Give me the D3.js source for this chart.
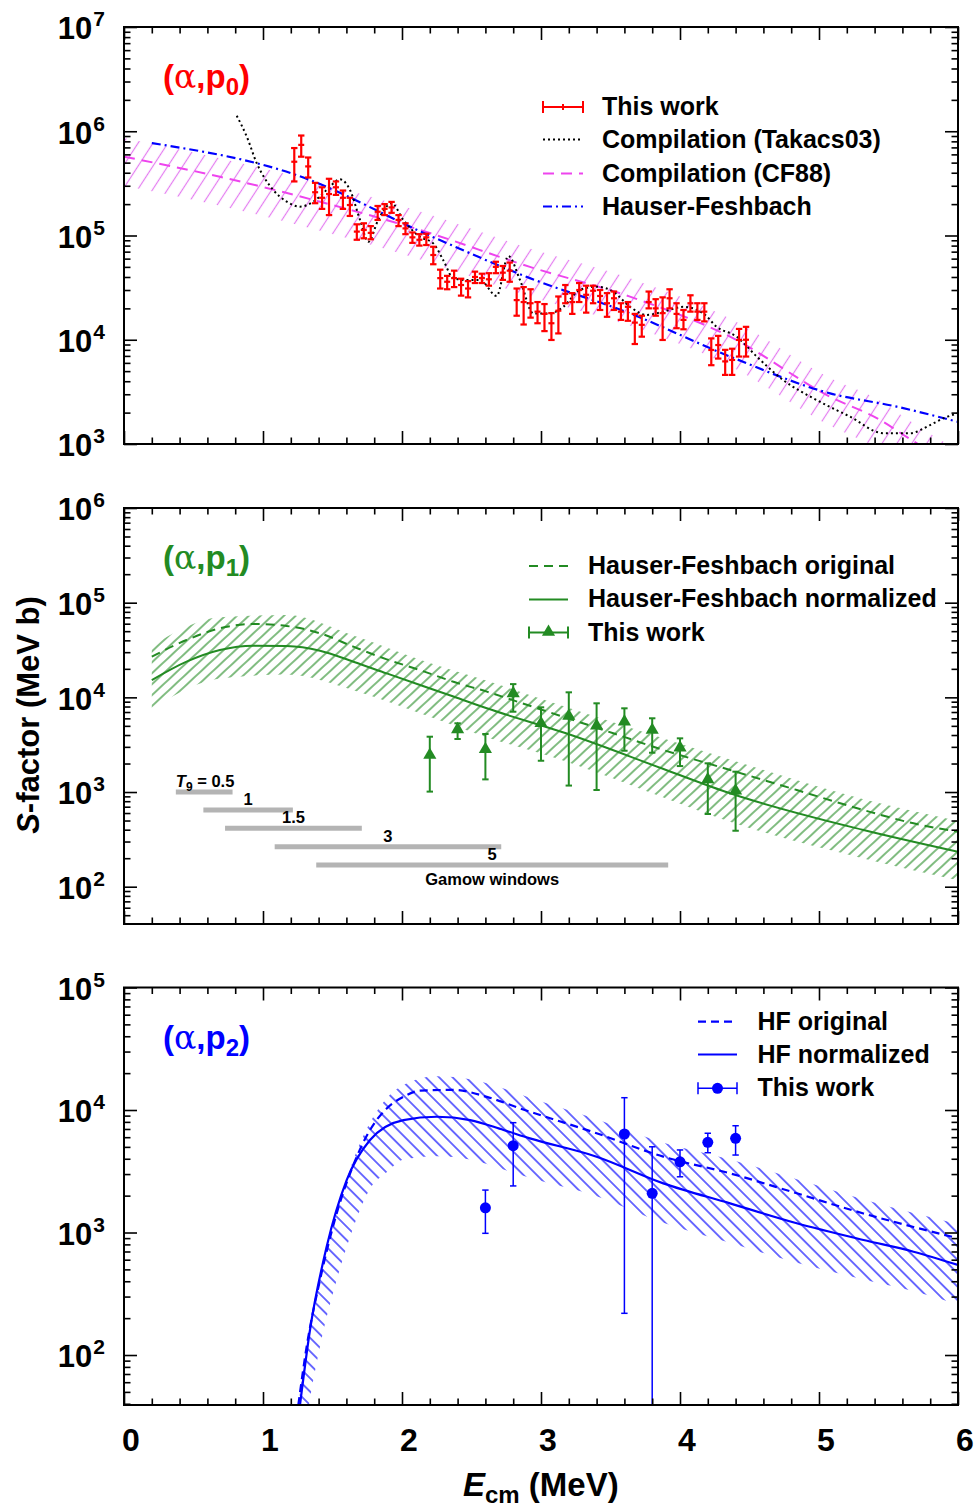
<!DOCTYPE html>
<html lang="en">
<head>
<meta charset="UTF-8">
<title>S-factor</title>
<script src="https://d3js.org/d3.v7.min.js"></script>
<style>
  body { margin: 0; background: #fff; }
  svg { display: block; }
  text { font-family: "Liberation Sans", Arial, Helvetica, sans-serif; font-weight: bold; }
</style>
</head>
<body>
<svg id="chart" width="975" height="1510"></svg>
<script>
// ---------- data: (alpha,p0) ----------
const p0E = [1.225, 1.275, 1.325, 1.375, 1.425, 1.475, 1.525, 1.575, 1.625, 1.675, 1.725, 1.775, 1.825, 1.875, 1.925, 1.975,
  2.025, 2.075, 2.125, 2.175, 2.225, 2.275, 2.325, 2.375, 2.425, 2.475, 2.525, 2.575, 2.625, 2.675, 2.725, 2.775, 2.825,
  2.875, 2.925, 2.975, 3.025, 3.075, 3.125, 3.175, 3.225, 3.275, 3.325, 3.375, 3.425, 3.475, 3.525, 3.575, 3.625, 3.675,
  3.725, 3.775, 3.825, 3.875, 3.925, 3.975, 4.025, 4.075, 4.125, 4.175, 4.225, 4.275, 4.325, 4.375, 4.425, 4.475];
const p0S = [5.1e5, 7.4e5, 4.6e5, 2.6e5, 2.3e5, 2.5e5, 2.9e5, 2.3e5, 1.96e5, 1.09e5, 1.13e5, 1.06e5, 1.69e5, 1.8e5, 1.86e5, 1.41e5,
  1.17e5, 9.6e4, 9.1e4, 9.6e4, 6.5e4, 3.9e4, 3.6e4, 3.9e4, 3.35e4, 3.1e4, 4.0e4, 3.9e4, 3.8e4, 5.0e4, 4.4e4, 4.6e4, 2.4e4,
  2.3e4, 2.24e4, 1.86e4, 1.77e4, 1.44e4, 1.9e4, 2.75e4, 2.3e4, 3.0e4, 2.7e4, 2.95e4, 2.63e4, 2.24e4, 2.5e4, 1.86e4, 2.07e4, 1.46e4,
  1.39e4, 2.3e4, 2.0e4, 1.8e4, 2.5e4, 1.77e4, 1.55e4, 2.24e4, 1.86e4, 1.86e4, 7.98e3, 8.9e3, 6.2e3, 6.4e3, 9.95e3, 1.0e4];
const p0Hi = [6.9e5, 9.1e5, 5.6e5, 3.2e5, 2.9e5, 3.5e5, 3.3e5, 2.7e5, 2.3e5, 1.28e5, 1.31e5, 1.23e5, 1.92e5, 2.0e5, 2.1e5, 1.57e5,
  1.31e5, 1.07e5, 1.03e5, 1.04e5, 7.8e4, 4.7e4, 4.1e4, 4.6e4, 3.85e4, 3.65e4, 4.5e4, 4.3e4, 4.35e4, 5.6e4, 5.1e4, 5.5e4, 3.1e4,
  3.2e4, 3.05e4, 2.3e4, 2.2e4, 1.8e4, 2.6e4, 3.35e4, 2.8e4, 3.5e4, 3.3e4, 3.3e4, 3.0e4, 2.8e4, 2.9e4, 2.24e4, 2.3e4, 1.77e4,
  1.7e4, 2.9e4, 2.45e4, 2.55e4, 3.05e4, 2.24e4, 1.93e4, 2.67e4, 2.24e4, 2.24e4, 1.03e4, 1.09e4, 8.0e3, 8.2e3, 1.27e4, 1.33e4];
const p0Lo = [3.3e5, 5.7e5, 3.6e5, 2.04e5, 1.8e5, 1.57e5, 2.45e5, 1.8e5, 1.54e5, 9.1e4, 9.4e4, 9.2e4, 1.41e5, 1.57e5, 1.65e5, 1.23e5,
  1.03e5, 8.5e4, 8.0e4, 8.1e4, 5.3e4, 3.1e4, 3.05e4, 3.2e4, 2.65e4, 2.55e4, 3.5e4, 3.5e4, 3.3e4, 4.35e4, 3.75e4, 3.6e4, 1.7e4,
  1.4e4, 1.63e4, 1.44e4, 1.21e4, 9.95e3, 1.15e4, 2.24e4, 1.77e4, 2.3e4, 1.82e4, 2.24e4, 1.93e4, 1.66e4, 1.93e4, 1.55e4, 1.52e4, 9.1e3,
  1.07e4, 2.0e4, 1.7e4, 9.95e3, 2.0e4, 1.29e4, 1.26e4, 1.86e4, 1.55e4, 1.5e4, 5.7e3, 6.6e3, 4.6e3, 4.6e3, 6.9e3, 6.9e3];

const takE = [0.811, 0.883, 0.955, 1.074, 1.171, 1.266, 1.362, 1.458, 1.554, 1.626, 1.698, 1.758, 1.829, 1.926, 2.009, 2.129,
  2.225, 2.297, 2.369, 2.465, 2.561, 2.681, 2.765, 2.849, 2.945, 3.065, 3.16, 3.28, 3.401, 3.52, 3.64, 3.76, 3.88, 4.024,
  4.168, 4.264, 4.408, 4.552, 4.743, 4.983, 5.223, 5.463, 5.655, 5.799, 5.894, 6.0];
const takS = [1.41e6, 8.9e5, 4.94e5, 2.73e5, 2.11e5, 1.89e5, 2.11e5, 2.73e5, 3.46e5, 2.73e5, 1.41e5, 8.7e4, 1.41e5, 2.04e5, 1.41e5, 9.7e4,
  8.4e4, 5.8e4, 3.9e4, 3.74e4, 3.74e4, 2.63e4, 6.36e4, 3.74e4, 1.79e4, 1.79e4, 2.07e4, 3.0e4, 3.23e4, 2.89e4, 2.07e4, 1.73e4, 1.86e4, 2.07e4,
  1.79e4, 1.33e4, 1.07e4, 6.9e3, 4.1e3, 2.64e3, 1.83e3, 1.27e3, 1.27e3, 1.52e3, 1.76e3, 1.97e3];

const cf88E = [0, 0.69, 1.41, 2.13, 2.92, 3.64, 4.36, 5.08, 5.44, 5.63, 6.0];
const cf88S = [5.7e5, 3.66e5, 2.11e5, 1.13e5, 5.0e4, 2.59e4, 1.07e4, 2.84e3, 1.7e3, 1.17e3, 5.8e2];
const cf88Hi = [8.6e5, 5.5e5, 3.2e5, 1.7e5, 7.5e4, 3.9e4, 1.6e4, 4.3e3, 2.6e3, 1.75e3, 8.7e2];
const cf88Lo = [3.0e5, 1.93e5, 1.11e5, 5.9e4, 2.6e4, 1.36e4, 5.6e3, 1.5e3, 8.9e2, 6.2e2, 3.05e2];

const hf0E = [0.2, 1.216, 2.22, 2.92, 3.64, 4.36, 5.08, 5.56, 6.0];
const hf0S = [7.7e5, 3.9e5, 9.7e4, 3.9e4, 1.79e4, 6.9e3, 3.06e3, 2.28e3, 1.63e3];

// ---------- data: (alpha,p1) ----------
const hf1OrigE = [0.2, 0.45, 0.69, 0.93, 1.17, 1.41, 1.65, 1.89, 2.13, 2.37, 2.61, 2.85, 3.52, 3.88, 4.36, 4.84, 5.32, 5.68, 6.0];
const hf1OrigS = [2.69e4, 4.03e4, 5.36e4, 5.95e4, 5.67e4, 4.75e4, 3.43e4, 2.52e4, 1.94e4, 1.46e4, 1.15e4, 8.8e3, 4.17e3, 2.78e3, 1.71e3, 1.05e3, 645, 467, 380];
const hf1NormE = [0.2, 0.45, 0.69, 0.93, 1.17, 1.41, 1.65, 1.89, 2.13, 2.37, 2.61, 3.18, 3.9, 4.36, 5.32, 6.0];
const hf1NormS = [1.52e4, 2.38e4, 3.16e4, 3.51e4, 3.48e4, 3.11e4, 2.38e4, 1.79e4, 1.35e4, 1.02e4, 7.66e3, 4.17e3, 1.71e3, 970, 397, 234];
const band1E = [0.2, 0.69, 1.17, 1.65, 2.13, 2.61, 3.18, 3.9, 4.36, 5.32, 6.0];
const band1Hi = [3.5e4, 7.0e4, 7.4e4, 4.5e4, 2.5e4, 1.5e4, 7.9e3, 3.6e3, 2.2e3, 840, 495];
const band1Lo = [7.6e3, 1.58e4, 1.74e4, 1.19e4, 6.8e3, 3.8e3, 2.1e3, 855, 485, 199, 117];

const p1E = [2.2, 2.4, 2.6, 2.8, 3.0, 3.2, 3.4, 3.6, 3.8, 4.0, 4.2, 4.4];
const p1S = [2.46e3, 4.59e3, 2.83e3, 1.1e4, 5.32e3, 6.35e3, 5.02e3, 5.53e3, 4.52e3, 2.94e3, 1.36e3, 1.03e3];
const p1Hi = [3.84e3, 5.32e3, 4.1e3, 1.38e4, 7.85e3, 1.13e4, 8.65e3, 7.66e3, 6.01e3, 3.69e3, 2.01e3, 1.64e3];
const p1Lo = [1.01e3, 3.63e3, 1.36e3, 7.05e3, 2.14e3, 1.17e3, 1.05e3, 2.73e3, 2.6e3, 1.88e3, 586, 390];

const gamowT9 = ["0.5", "1", "1.5", "3", "5"];
const gamowLo = [0.373, 0.571, 0.727, 1.084, 1.383];
const gamowHi = [0.781, 1.215, 1.711, 2.714, 3.915];
const gamowS = [1000, 646, 414, 264, 169];

// ---------- data: (alpha,p2) ----------
const hf2OrigE = [1.254, 1.314, 1.41, 1.53, 1.65, 1.77, 1.89, 2.01, 2.13, 2.37, 2.61, 2.85, 3.40, 3.88, 4.36, 4.84, 5.32, 5.68, 6.0];
const hf2OrigS = [39, 117, 409, 1.43e3, 3.56e3, 6.87e3, 1.03e4, 1.28e4, 1.44e4, 1.46e4, 1.28e4, 1.03e4, 6.46e3, 4.16e3, 3.04e3, 2.09e3, 1.43e3, 1.11e3, 897];
const hf2NormE = [1.266, 1.338, 1.458, 1.602, 1.77, 2.01, 2.25, 2.49, 2.73, 2.92, 3.40, 3.88, 4.36, 4.84, 5.32, 5.68, 6.0];
const hf2NormS = [39, 160, 766, 2.68e3, 5.69e3, 8.28e3, 8.81e3, 8.28e3, 6.87e3, 5.87e3, 4.16e3, 2.52e3, 1.73e3, 1.19e3, 869, 697, 543];
const band2E = [1.254, 1.314, 1.41, 1.53, 1.65, 1.77, 1.89, 2.01, 2.25, 2.49, 2.73, 2.92, 3.40, 3.88, 4.36, 4.84, 5.32, 5.68, 6.0];
const band2Hi = [39, 117, 409, 1.43e3, 3.9e3, 7.9e3, 1.25e4, 1.6e4, 1.89e4, 1.78e4, 1.5e4, 1.26e4, 8.4e3, 5.4e3, 3.95e3, 2.72e3, 1.86e3, 1.44e3, 1.17e3];
const band2Lo = [8, 29, 117, 409, 1.1e3, 2.28e3, 3.1e3, 3.94e3, 4.2e3, 3.94e3, 3.27e3, 2.8e3, 1.98e3, 1.2e3, 824, 567, 414, 332, 259];

const p2E = [2.6, 2.8, 3.6, 3.8, 4.0, 4.2, 4.4];
const p2S = [1.59e3, 5.11e3, 6.37e3, 2.09e3, 3.78e3, 5.45e3, 5.87e3];
const p2Hi = [2.22e3, 7.88e3, 1.26e4, 5.01e3, 4.72e3, 6.46e3, 7.44e3];
const p2Lo = [985, 2.4e3, 219, 1, 2.85e3, 4.48e3, 4.29e3];

const xTicks = [0, 1, 2, 3, 4, 5, 6];

// ---------- layout ----------
const RED = "#ff0000", GREEN = "#238b23", BLUE = "#0000ff", MAG = "#ee44ee";
const svg = d3.select("#chart");
const defs = svg.append("defs");
const x = d3.scaleLinear().domain([0, 6]).range([124, 958]);

const panels = [
  { top: 27, bottom: 444, lo: 1e3, hi: 1e7 },
  { top: 508, bottom: 924, lo: Math.pow(10, 1.606), hi: 1e6 },
  { top: 987.5, bottom: 1405, lo: Math.pow(10, 1.592), hi: 1e5 }
];
panels.forEach((p, i) => {
  p.y = d3.scaleLog().domain([p.lo, p.hi]).range([p.bottom, p.top]);
  p.clip = "clip" + i;
  defs.append("clipPath").attr("id", p.clip).append("rect")
    .attr("x", 124).attr("y", p.top).attr("width", 834).attr("height", p.bottom - p.top);
});

function hatch(id, color, spacing, angle, sw) {
  defs.append("pattern").attr("id", id).attr("patternUnits", "userSpaceOnUse")
    .attr("width", spacing).attr("height", spacing)
    .attr("patternTransform", `rotate(${angle})`)
    .append("line").attr("x1", spacing / 2).attr("y1", 0).attr("x2", spacing / 2).attr("y2", spacing)
    .attr("stroke", color).attr("stroke-width", sw);
}
hatch("hMag", "#e47cf0", 12.5, 33, 1.2);
hatch("hGreen", GREEN, 8, 47, 1.15);
hatch("hBlue", BLUE, 9.5, -45, 1.15);

function frame(p, showX) {
  let g = svg.append("g").attr("stroke-width", 1.6);
  const xMinor = d3.range(0, 30.5, 1).map(d => d / 5).filter(d => d % 1 !== 0);
  const ld = Math.log10(p.lo), hd = Math.log10(p.hi);
  let yMajor = [], yMinor = [];
  for (let n = Math.floor(ld); n <= hd; n++) {
    for (let k = 1; k <= 9; k++) {
      let v = k * Math.pow(10, n);
      if (v < p.lo * 0.999 || v > p.hi * 1.001) continue;
      (k === 1 ? yMajor : yMinor).push(v);
    }
  }
  const axes = [
    [d3.axisBottom(x).tickValues(xMinor).tickSize(-6.5), `translate(0,${p.bottom})`],
    [d3.axisBottom(x).tickValues(xTicks).tickSize(-13), `translate(0,${p.bottom})`],
    [d3.axisTop(x).tickValues(xMinor).tickSize(-6.5), `translate(0,${p.top})`],
    [d3.axisTop(x).tickValues(xTicks).tickSize(-13), `translate(0,${p.top})`],
    [d3.axisLeft(p.y).tickValues(yMinor).tickSize(-6.5), "translate(124,0)"],
    [d3.axisLeft(p.y).tickValues(yMajor).tickSize(-13), "translate(124,0)"],
    [d3.axisRight(p.y).tickValues(yMinor).tickSize(-6.5), "translate(958,0)"],
    [d3.axisRight(p.y).tickValues(yMajor).tickSize(-13), "translate(958,0)"]
  ];
  axes.forEach(([ax, tr]) => {
    g.append("g").attr("transform", tr).call(ax.tickFormat(""))
      .call(s => s.select(".domain").remove())
      .selectAll("line").attr("stroke", "#000").attr("stroke-width", 1.6);
  });
  svg.append("rect").attr("x", 124).attr("y", p.top).attr("width", 834).attr("height", p.bottom - p.top)
    .attr("fill", "none").attr("stroke", "#000").attr("stroke-width", 2);

  // y labels 10^n
  yMajor.forEach(v => {
    let t = svg.append("text").attr("x", 105).attr("y", p.y(v)).attr("dy", "0.4em")
      .attr("text-anchor", "end").attr("font-size", 31);
    t.append("tspan").text("10");
    t.append("tspan").attr("font-size", 21).attr("dy", -13).attr("dx", 1).text(Math.round(Math.log10(v)));
  });
  if (showX) {
    xTicks.forEach(d => {
      svg.append("text").attr("x", x(d) + 7).attr("y", 1451).attr("text-anchor", "middle")
        .attr("font-size", 32).text(d);
    });
  }
}

function curve(p, es, ss, color, dash, w) {
  const line = d3.line().x(d => x(d[0])).y(d => p.y(d[1])).curve(d3.curveMonotoneX);
  svg.append("path").attr("clip-path", `url(#${p.clip})`)
    .attr("d", line(es.map((e, i) => [e, ss[i]])))
    .attr("fill", "none").attr("stroke", color).attr("stroke-width", w)
    .attr("stroke-dasharray", dash);
}

function band(p, es, lo, hi, pat) {
  const area = d3.area().x(d => x(d[0])).y0(d => p.y(d[1])).y1(d => p.y(d[2])).curve(d3.curveMonotoneX);
  svg.append("path").attr("clip-path", `url(#${p.clip})`)
    .attr("d", area(es.map((e, i) => [e, lo[i], hi[i]])))
    .attr("fill", `url(#${pat})`).attr("stroke", "none");
}

function errorBars(p, es, ss, lo, hi, color, w, cap) {
  let g = svg.append("g").attr("clip-path", `url(#${p.clip})`).attr("stroke", color).attr("stroke-width", w);
  es.forEach((e, i) => {
    let cx = x(e), yl = p.y(Math.max(lo[i], 1)), yh = p.y(hi[i]);
    g.append("line").attr("x1", cx).attr("x2", cx).attr("y1", yl).attr("y2", yh);
    g.append("line").attr("x1", cx - cap).attr("x2", cx + cap).attr("y1", yl).attr("y2", yl);
    g.append("line").attr("x1", cx - cap).attr("x2", cx + cap).attr("y1", yh).attr("y2", yh);
  });
  return g;
}

function reactionLabel(p, sub, color) {
  const t = svg.append("text").attr("x", 163).attr("y", p.top + 61).attr("fill", color).attr("font-size", 33);
  t.append("tspan").text("(");
  t.append("tspan").attr("font-family", "'DejaVu Serif', 'Liberation Serif', serif").attr("font-weight", "normal")
    .attr("font-size", 33).text("α");
  t.append("tspan").text(",p");
  t.append("tspan").attr("font-size", 24).attr("dy", 7).text(sub);
  t.append("tspan").attr("dy", -7).text(")");
}

function legendText(px, py, label) {
  svg.append("text").attr("x", px).attr("y", py).attr("font-size", 25).attr("fill", "#000").text(label);
}
function legendLine(x1, x2, py, color, dash, w) {
  svg.append("line").attr("x1", x1).attr("x2", x2).attr("y1", py).attr("y2", py)
    .attr("stroke", color).attr("stroke-width", w).attr("stroke-dasharray", dash);
}
function legendErr(x1, x2, py, color, w) {
  legendLine(x1, x2, py, color, null, w);
  [x1, x2].forEach(xx => svg.append("line").attr("x1", xx).attr("x2", xx).attr("y1", py - 6).attr("y2", py + 6)
    .attr("stroke", color).attr("stroke-width", w));
}

// ---------- panel 1 ----------
let P = panels[0];
band(P, cf88E, cf88Lo, cf88Hi, "hMag");
curve(P, cf88E, cf88S, MAG, "11,7", 2);
curve(P, hf0E, hf0S, BLUE, "9,4,2,4", 2.2);
curve(P, takE, takS, "#000", "2,3", 2);
let g1 = errorBars(P, p0E, p0S, p0Lo, p0Hi, RED, 2.2, 3.2);
p0E.forEach((e, i) => g1.append("line").attr("x1", x(e) - 3).attr("x2", x(e) + 3)
  .attr("y1", P.y(p0S[i])).attr("y2", P.y(p0S[i])));
frame(P, false);
reactionLabel(P, "0", RED);
legendErr(543, 583, 107, RED, 2);
svg.append("line").attr("x1", 563).attr("x2", 563).attr("y1", 104).attr("y2", 110).attr("stroke", RED).attr("stroke-width", 2);
legendLine(543, 583, 139.5, "#000", "2,3", 2);
legendLine(543, 583, 173.5, MAG, "11,7", 2);
legendLine(543, 583, 206.5, BLUE, "9,4,2,4", 2.2);
legendText(602, 115, "This work");
legendText(602, 148, "Compilation (Takacs03)");
legendText(602, 181.5, "Compilation (CF88)");
legendText(602, 214.5, "Hauser-Feshbach");

// ---------- panel 2 ----------
P = panels[1];
band(P, band1E, band1Lo, band1Hi, "hGreen");
curve(P, hf1OrigE, hf1OrigS, GREEN, "9,6", 2);
curve(P, hf1NormE, hf1NormS, GREEN, null, 2);
errorBars(P, p1E, p1S, p1Lo, p1Hi, GREEN, 2, 3.2);
const tri = d3.symbol(d3.symbolTriangle, 75);
p1E.forEach((e, i) => svg.append("path").attr("d", tri())
  .attr("transform", `translate(${x(e)},${P.y(p1S[i])})`).attr("fill", GREEN));
// Gamow windows
gamowT9.forEach((t, i) => {
  let yy = P.y(gamowS[i]);
  svg.append("line").attr("x1", x(gamowLo[i])).attr("x2", x(gamowHi[i])).attr("y1", yy).attr("y2", yy)
    .attr("stroke", "#b4b4b4").attr("stroke-width", 5);
  if (i === 0) {
    let tt = svg.append("text").attr("x", x(gamowLo[i])).attr("y", yy - 5).attr("font-size", 16.5);
    tt.append("tspan").attr("font-style", "italic").text("T");
    tt.append("tspan").attr("font-size", 12).attr("dy", 4).text("9");
    tt.append("tspan").attr("dy", -4).text(" = " + t);
  } else {
    svg.append("text").attr("x", (x(gamowLo[i]) + x(gamowHi[i])) / 2).attr("y", yy - 5)
      .attr("text-anchor", "middle").attr("font-size", 16.5).text(t);
  }
});
svg.append("text").attr("x", (x(gamowLo[4]) + x(gamowHi[4])) / 2).attr("y", P.y(gamowS[4]) + 20)
  .attr("text-anchor", "middle").attr("font-size", 16.5).text("Gamow windows");
frame(P, false);
reactionLabel(P, "1", GREEN);
legendLine(529, 568, 566, GREEN, "9,6", 2);
legendLine(529, 568, 599.5, GREEN, null, 2);
legendErr(529, 568, 632.5, GREEN, 2);
svg.append("path").attr("d", tri()).attr("transform", "translate(548.5,632)").attr("fill", GREEN);
legendText(588, 573.5, "Hauser-Feshbach original");
legendText(588, 607, "Hauser-Feshbach normalized");
legendText(588, 640.5, "This work");

// ---------- panel 3 ----------
P = panels[2];
band(P, band2E, band2Lo, band2Hi, "hBlue");
curve(P, hf2OrigE, hf2OrigS, BLUE, "8,5", 2.2);
curve(P, hf2NormE, hf2NormS, BLUE, null, 2.2);
errorBars(P, p2E, p2S, p2Lo, p2Hi, BLUE, 1.5, 3.2);
p2E.forEach((e, i) => svg.append("circle").attr("cx", x(e)).attr("cy", P.y(p2S[i])).attr("r", 5.5).attr("fill", BLUE));
frame(P, true);
reactionLabel(P, "2", BLUE);
legendLine(698, 737, 1021.7, BLUE, "8,5", 2.2);
legendLine(698, 737, 1054.5, BLUE, null, 2.2);
legendErr(698, 737, 1088.3, BLUE, 1.5);
svg.append("circle").attr("cx", 717.5).attr("cy", 1088.3).attr("r", 5.5).attr("fill", BLUE);
legendText(757.5, 1030, "HF original");
legendText(757.5, 1062.5, "HF normalized");
legendText(757.5, 1095.5, "This work");

// ---------- axis titles ----------
let yt = svg.append("text").attr("transform", "translate(39,715) rotate(-90)")
  .attr("text-anchor", "middle").attr("font-size", 31);
yt.append("tspan").attr("font-style", "italic").text("S");
yt.append("tspan").text("-factor (MeV b)");

let xt = svg.append("text").attr("x", 463).attr("y", 1496).attr("font-size", 33);
xt.append("tspan").attr("font-style", "italic").text("E");
xt.append("tspan").attr("font-size", 24).attr("dy", 7).text("cm");
xt.append("tspan").attr("dy", -7).text(" (MeV)");
</script>
</body>
</html>
